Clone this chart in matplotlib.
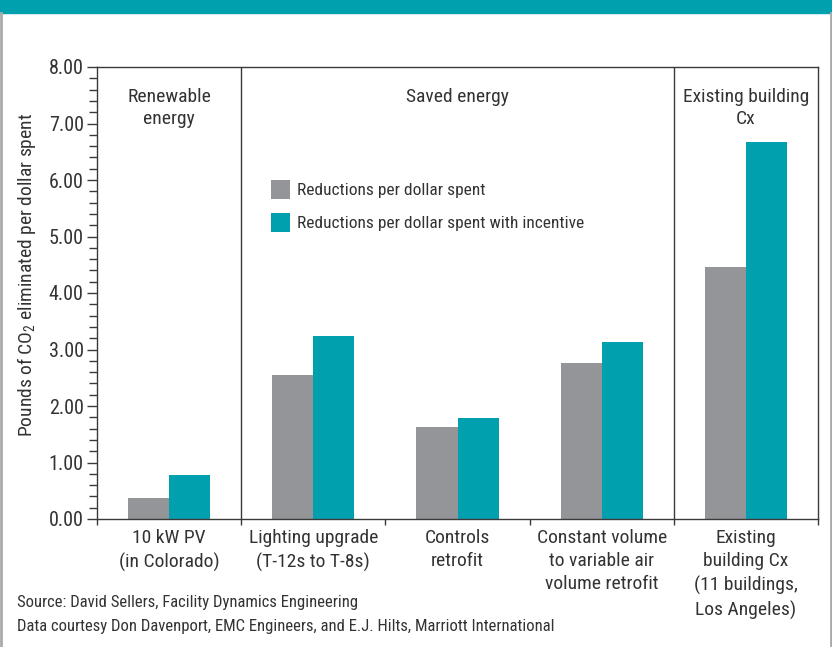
import matplotlib
matplotlib.use("Agg")
import matplotlib.pyplot as plt
from matplotlib.patches import Rectangle
from matplotlib import font_manager as fm
import numpy as np

_names = {f.name for f in fm.fontManager.ttflist}
_fam = next((n for n in ['Roboto Condensed', 'IBM Plex Sans Condensed', 'Archivo Narrow',
                         'PT Sans Narrow', 'Liberation Sans Narrow'] if n in _names), 'DejaVu Sans')
plt.rcParams['font.family'] = [_fam, 'DejaVu Sans']
plt.rcParams['mathtext.default'] = 'regular'

categories = ["10 kW PV\n(in Colorado)", "Lighting upgrade\n(T-12s to T-8s)", "Controls\nretrofit",
              "Constant volume\nto variable air\nvolume retrofit", "Existing\nbuilding Cx\n(11 buildings,\nLos Angeles)"]
reductions = [0.37, 2.55, 1.63, 2.76, 4.46]
reductions_incentive = [0.78, 3.24, 1.79, 3.13, 6.67]
series_names = ["Reductions per dollar spent", "Reductions per dollar spent with incentive"]
group_labels = ["Renewable\nenergy", "Saved energy", "Existing building\nCx"]
yticks = [0, 1, 2, 3, 4, 5, 6, 7, 8]

GREY = "#939598"
TEAL = "#00A0AE"
TXT = "#333333"
SPINE = "#3a3a3a"

fig = plt.figure(figsize=(8.32, 6.47), dpi=100)
ax = fig.add_axes([97/832, 1-519/647, (818-97)/832, (519-67)/647])

x = np.arange(len(categories))
w = 0.285
ax.bar(x - w/2, reductions, w, color=GREY, label=series_names[0])
ax.bar(x + w/2, reductions_incentive, w, color=TEAL, label=series_names[1])

ax.set_xlim(-0.5, 4.5)
ax.set_ylim(0, 8)
ax.set_yticks(yticks)
ax.set_yticklabels([f"{v:.2f}" for v in yticks], fontsize=14.5, color=TXT)
ax.set_yticks(np.arange(0, 8.01, 0.2), minor=True)
ax.tick_params(axis='y', which='major', length=7.5, width=1, color=SPINE, pad=2, direction='out')
ax.tick_params(axis='y', which='minor', length=5.5, width=1, color=SPINE, direction='out')

ax.set_xticks(np.arange(-0.5, 4.6, 1))
ax.set_xticklabels([])
ax.tick_params(axis='x', which='major', length=4.5, width=1, color=SPINE, direction='out')
ax.set_xticks(x, minor=True)
ax.set_xticklabels(categories, minor=True, fontsize=14, color=TXT, linespacing=1.38)
ax.tick_params(axis='x', which='minor', length=0, pad=7)

for s in ax.spines.values():
    s.set_color(SPINE)
    s.set_linewidth(1)

for xv in (0.5, 3.5):
    ax.axvline(xv, color=SPINE, lw=1)

gx = [0, 2, 4]
for gxi, lab in zip(gx, group_labels):
    ax.text(gxi, 7.62, lab, ha='center', va='top', fontsize=14, color=TXT, linespacing=1.25)

leg = ax.legend(loc='upper left', bbox_to_anchor=((271-97)/721, (519-180)/452), frameon=False,
                fontsize=12.5, handlelength=1.1, handleheight=1.3, handletextpad=0.4,
                labelspacing=0.8, borderpad=0, borderaxespad=0)
for t in leg.get_texts():
    t.set_color(TXT)

fig.text(27/832, 1-275/647, "Pounds of CO$_2$ eliminated per dollar spent", rotation=90,
         ha='center', va='center', fontsize=14, color=TXT)

fig.text(17/832, 1-603/647, "Source: David Sellers, Facility Dynamics Engineering", ha='left', va='center',
         fontsize=12, color=TXT)
fig.text(17/832, 1-626/647, "Data courtesy Don Davenport, EMC Engineers, and E.J. Hilts, Marriott International",
         ha='left', va='center', fontsize=12, color=TXT)

# header band and side borders
fig.patches.append(Rectangle((0, 1-13/647), 1, 13/647, transform=fig.transFigure, color=TEAL, zorder=0))
fig.add_artist(plt.Line2D([1/832, 1/832], [0, 1-13/647], transform=fig.transFigure, color="#aaaaaa", lw=2))
fig.add_artist(plt.Line2D([831/832, 831/832], [0, 1-13/647], transform=fig.transFigure, color="#aaaaaa", lw=2))

fig.savefig("out.png", dpi=100)
